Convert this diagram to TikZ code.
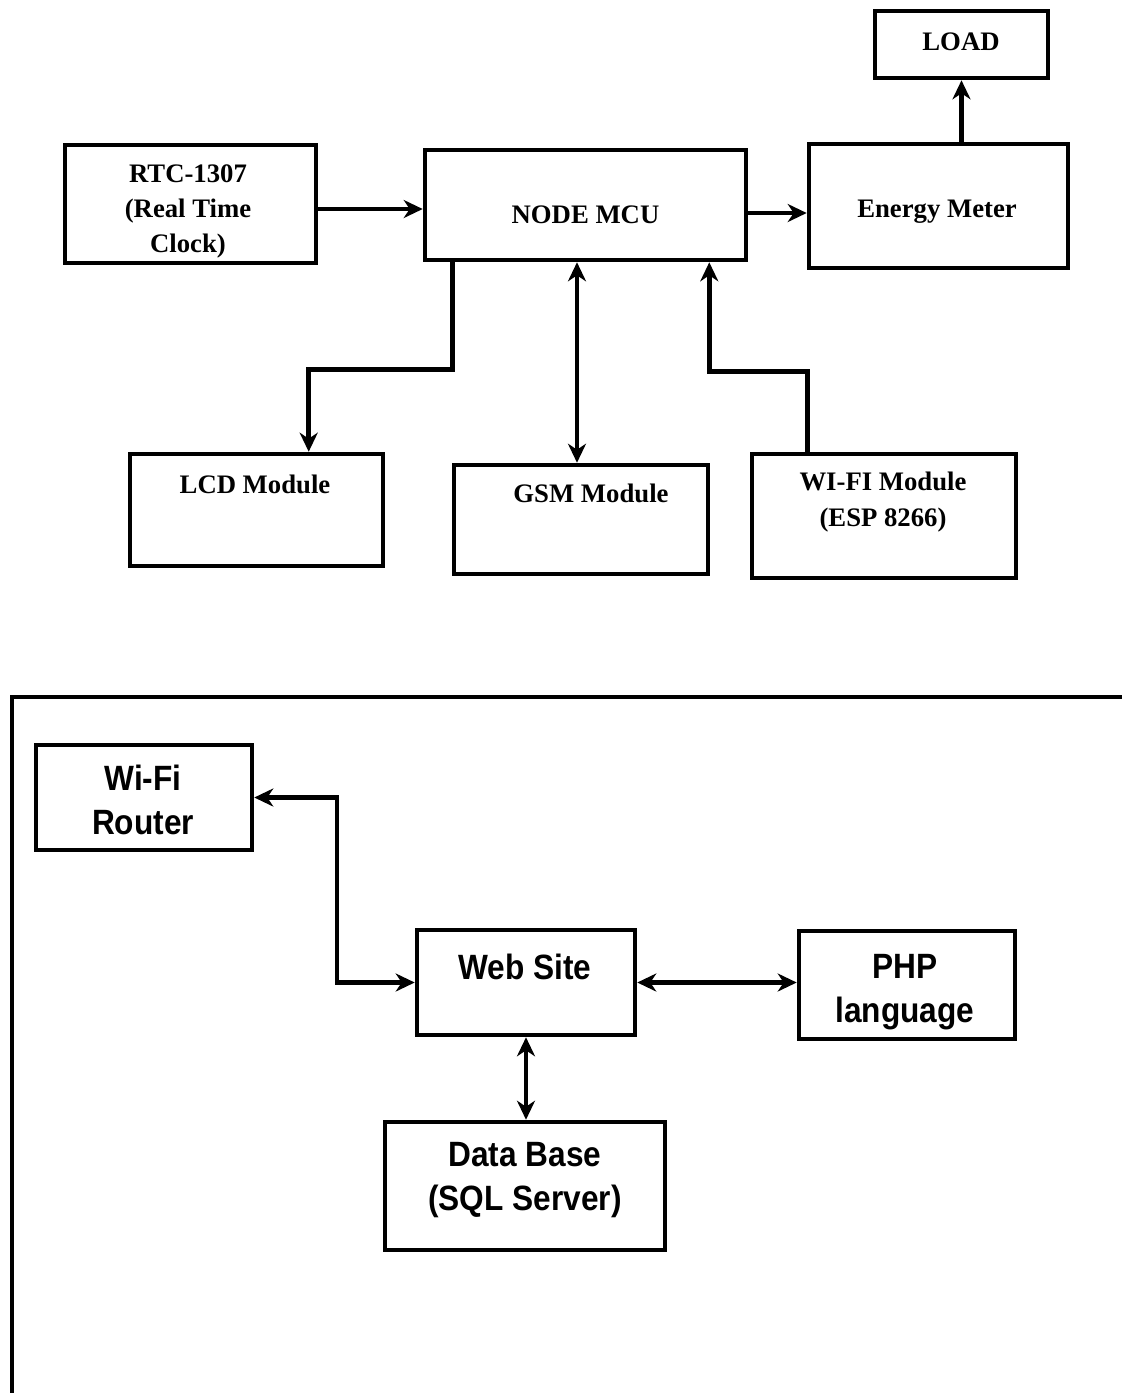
\documentclass[tikz,border=0pt]{standalone}
\usepackage{fontspec}
\usepackage{tikz}
\usetikzlibrary{arrows.meta}

\newfontfamily\labserif{Liberation Serif}
\newfontfamily\labsans[FakeStretch=0.9]{Liberation Sans}

\begin{document}
\begin{tikzpicture}[
    >={Stealth[length=1.9mm,width=1.8mm,inset=0.6mm]},
    line width=1.35pt,
    blk/.style={draw, rectangle, inner sep=0pt, line width=1.3pt},
    toplab/.style={inner sep=0pt, anchor=north, align=center,
      font=\labserif\bfseries\fontsize{7.6}{10}\selectfont},
    netlab/.style={inner sep=0pt, anchor=north, align=center,
      font=\labsans\bfseries\fontsize{10}{12.5}\selectfont},
  ]
  \path[use as bounding box, fill=white] (0,0) rectangle (11.22,-13.93);

  %% ---- meter side: the blocks ------------------------------------------
  \node[blk, minimum width=1.73cm, minimum height=0.67cm] (load)   at (9.615,-0.445) {};
  \node[blk, minimum width=2.59cm, minimum height=1.24cm] (energy) at (9.385,-2.06) {};
  \node[blk, minimum width=3.21cm, minimum height=1.10cm] (mcu)    at (5.855,-2.05) {};
  \node[blk, minimum width=2.51cm, minimum height=1.18cm] (rtc)    at (1.905,-2.04) {};
  \node[blk, minimum width=2.53cm, minimum height=1.12cm] (lcd)    at (2.565,-5.10) {};
  \node[blk, minimum width=2.54cm, minimum height=1.09cm] (gsm)    at (5.81,-5.195) {};
  \node[blk, minimum width=2.64cm, minimum height=1.24cm] (wifi)   at (8.84,-5.16) {};

  \node[toplab] (loadtxt)   at (9.61,-0.30)  {LOAD};
  \node[toplab] (energytxt) at (9.37,-1.98)  {Energy Meter};
  \node[toplab] (mcutxt)    at (5.855,-2.03) {NODE MCU};
  \node[toplab] (rtctxt)    at (1.88,-1.62)  {RTC-1307\\(Real Time\\Clock)};
  \node[toplab] (lcdtxt)    at (2.55,-4.73)  {LCD Module};
  \node[toplab] (gsmtxt)    at (5.91,-4.82)  {GSM Module};
  \node[toplab] (wifitxt)   at (8.83,-4.70)  {WI-FI Module\\(ESP 8266)};

  %% ---- meter side: links -----------------------------------------------
  \draw[->] ([yshift=-0.5mm]rtc.east) -- ([yshift=-0.5mm]rtc.east -| mcu.west);
  \draw[->] ([yshift=-0.8mm]mcu.east) -- ([yshift=-0.8mm]mcu.east -| energy.west);
  \draw[->] (load.south |- energy.north) -- (load.south);
  \draw[->] ([xshift=3.0mm]mcu.south west) -- ++(0,-1.07)
    -| ([xshift=18.1mm]lcd.north west);
  \draw[<->] ([xshift=-0.4mm]gsm.north) -- ([xshift=-0.4mm]gsm.north |- mcu.south);
  \draw[->] ([xshift=5.8mm]wifi.north west) -- ++(0,0.8)
    -| ([xshift=-3.9mm]mcu.south east);

  %% ---- server side: frame ----------------------------------------------
  \draw[line width=1.4pt] (0.12,-13.93) |- (11.22,-6.97);

  %% ---- server side: the blocks -----------------------------------------
  \node[blk, minimum width=2.16cm, minimum height=1.05cm] (router) at (1.44,-7.975) {};
  \node[blk, minimum width=2.18cm, minimum height=1.05cm] (web)    at (5.26,-9.825) {};
  \node[blk, minimum width=2.16cm, minimum height=1.08cm] (php)    at (9.07,-9.85) {};
  \node[blk, minimum width=2.80cm, minimum height=1.28cm] (db)     at (5.25,-11.86) {};

  \node[netlab] (routertxt) at (1.43,-7.63)  {Wi-Fi\\Router};
  \node[netlab] (webtxt)    at (5.25,-9.52)  {Web Site};
  \node[netlab] (phptxt)    at (9.05,-9.52)  {PHP\\language};
  \node[netlab] (dbtxt)     at (5.25,-11.40) {Data Base\\(SQL Server)};

  %% ---- server side: links ----------------------------------------------
  \draw[<->, line width=1.2pt] (router.east) -- ++(0.83,0) |- (web.west);
  \draw[<->, line width=1.2pt] (web.east) -- (web.east -| php.west);
  \draw[<->, line width=1.2pt] (web.south) -- (web.south |- db.north);
\end{tikzpicture}
\end{document}
